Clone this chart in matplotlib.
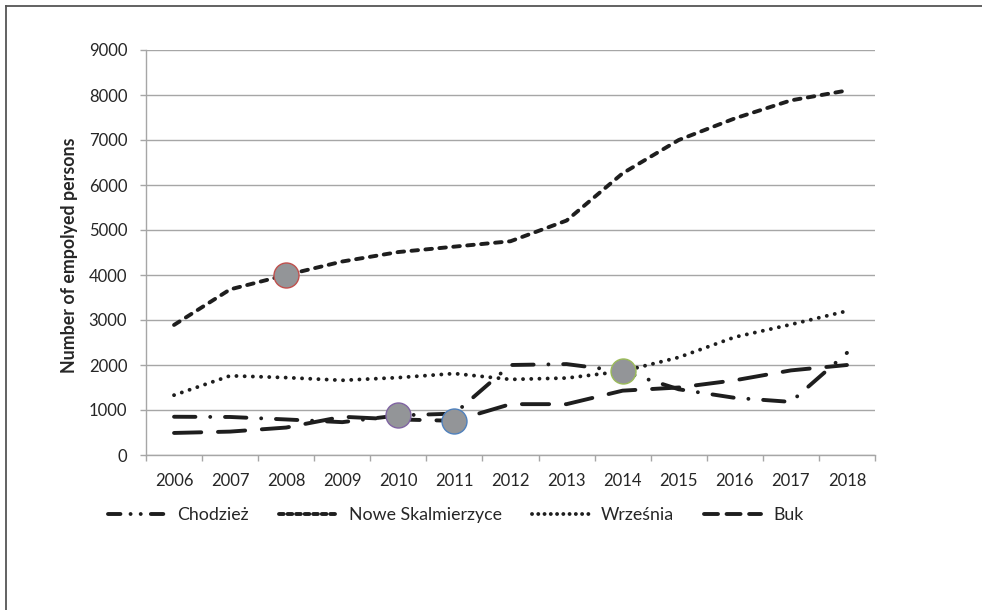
import numpy as np
import matplotlib
matplotlib.use('Agg')
import matplotlib.pyplot as plt
from matplotlib.lines import Line2D

plt.rcParams['font.family'] = ['Lato', 'DejaVu Sans']

years = ['2006', '2007', '2008', '2009', '2010', '2011', '2012',
         '2013', '2014', '2015', '2016', '2017', '2018']
series_names = ['Chodzież', 'Nowe Skalmierzyce', 'Września', 'Buk']
chodziez = [850, 845, 790, 730, 880, 920, 2000, 2020, 1860, 1460, 1270, 1180, 2270]
nowe_skalmierzyce = [2890, 3680, 4000, 4300, 4510, 4630, 4750, 5210, 6260, 7000, 7480, 7880, 8100]
wrzesnia = [1330, 1760, 1720, 1660, 1720, 1810, 1680, 1710, 1860, 2170, 2620, 2900, 3200]
buk = [490, 520, 610, 850, 790, 760, 1130, 1130, 1430, 1500, 1660, 1880, 2000]

# grey circles drawn on top of the chart
mark_years = ['2008', '2010', '2011', '2014']
mark_values = [4000, 890, 755, 1860]
mark_edges = ['#c0504d', '#8064a2', '#4f81bd', '#9bbb59']

line_color = '#1e1e1e'
text_color = '#262626'
lw = 2.8
styles = [(0, (5.5, 3.8, 0.01, 3.8)),
          (0, (1.7, 1.9)),
          (0, (0.01, 2.1)),
          (0, (7, 4.3))]
legend_styles = [(0, (3.2, 2.6, 0.01, 2.6, 0.01, 2.6)),
                 (0, (1.2, 1.0)),
                 (0, (0.01, 1.6)),
                 (0, (3.6, 2.2))]

fig = plt.figure(figsize=(9.82, 6.10), dpi=100)
ax = fig.add_axes([146 / 982, 1 - 455 / 610, (875 - 146) / 982, (455 - 50) / 610])

x = np.arange(len(years))
for vals, ls in zip([chodziez, nowe_skalmierzyce, wrzesnia, buk], styles):
    ax.plot(x, vals, color=line_color, lw=lw, linestyle=ls,
            dash_capstyle='round', solid_capstyle='round', zorder=3)

mx = [years.index(y) for y in mark_years]
for xi, yi, ec in zip(mx, mark_values, mark_edges):
    ax.plot(xi, yi, 'o', ms=18, mfc='#939598', mec=ec, mew=1.0, zorder=5)

ax.set_xlim(-0.5, len(years) - 0.5)
ax.set_ylim(0, 9000)
ax.set_yticks(np.arange(0, 9001, 1000))
ax.grid(axis='y', color='#a6a6a6', lw=1.0, zorder=0)
ax.set_axisbelow(True)

ax.set_xticks(np.arange(-0.5, len(years), 1.0))
ax.set_xticklabels([])
ax.set_xticks(x, minor=True)
ax.set_xticklabels(years, minor=True)
ax.tick_params(axis='x', which='major', length=4, color='#a6a6a6', width=1)
ax.tick_params(axis='x', which='minor', length=0, pad=13, labelsize=12, labelcolor=text_color)
ax.tick_params(axis='y', length=4.5, color='#a6a6a6', width=1, pad=9,
               labelsize=12, labelcolor=text_color)

for side in ['top', 'right']:
    ax.spines[side].set_visible(False)
for side in ['left', 'bottom']:
    ax.spines[side].set_color('#a6a6a6')
    ax.spines[side].set_linewidth(1.0)

fig.text(70 / 982, 1 - 255 / 610, 'Number of empolyed persons', rotation=90,
         ha='center', va='center', fontsize=12.8, fontweight='bold', color=text_color)

handles = [Line2D([], [], color=line_color, lw=lw, linestyle=ls, dash_capstyle='round')
           for ls in legend_styles]
fig.legend(handles, series_names, loc='center', bbox_to_anchor=(456 / 982, 1 - 515 / 610),
           ncol=4, frameon=False, fontsize=12.8, handlelength=3.2, handletextpad=0.7,
           columnspacing=1.7, labelcolor=text_color)

# frame around the figure
fig.add_artist(Line2D([6 / 982, 6 / 982], [0, 1 - 6 / 610], color='#555555', lw=1.3))
fig.add_artist(Line2D([6 / 982, 1], [1 - 6 / 610, 1 - 6 / 610], color='#555555', lw=1.3))

fig.savefig('out.png', dpi=100)
